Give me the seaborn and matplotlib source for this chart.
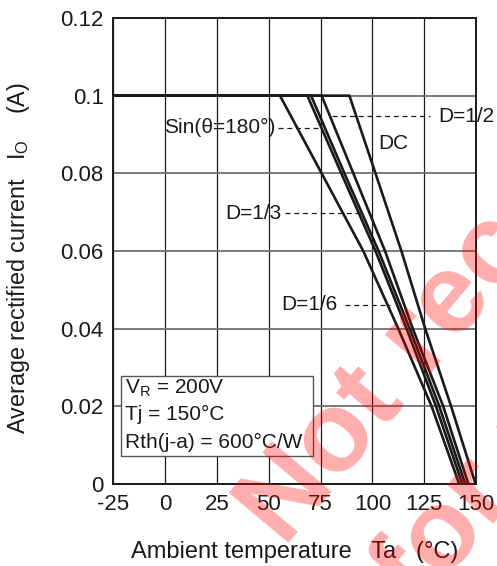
import matplotlib
matplotlib.use("Agg")
import matplotlib.pyplot as plt
from matplotlib.patches import Rectangle
import seaborn as sns
import pandas as pd

# derating curves: ambient temperature (degC) at each current step (A)
current = [0.1, 0.1, 0.08, 0.06, 0.04, 0.02, 0.0]
ta_d16 = [-25, 55.4, 75.5, 95.6, 112.5, 128.6, 141.9]
ta_sin = [-25, 68.6, 85.0, 101.5, 116.5, 130.7, 143.4]
ta_d13 = [-25, 70.4, 86.5, 103.0, 118.0, 132.3, 144.8]
ta_d12 = [-25, 75.5, 90.8, 106.1, 119.5, 134.2, 146.3]
ta_dc = [-25, 88.9, 101.5, 114.0, 125.5, 138.0, 149.8]

curve_names = ["D=1/6", "Sin(θ=180°)", "D=1/3", "D=1/2", "DC"]
curve_temps = [ta_d16, ta_sin, ta_d13, ta_d12, ta_dc]

x_ticks = [-25, 0, 25, 50, 75, 100, 125, 150]
y_ticks = [0, 0.02, 0.04, 0.06, 0.08, 0.1, 0.12]
y_tick_labels = ["0", "0.02", "0.04", "0.06", "0.08", "0.1", "0.12"]

conditions = ["V$_\\mathregular{R}$ = 200V", "Tj = 150°C", "Rth(j-a) = 600°C/W"]

rows = []
for name, temps in zip(curve_names, curve_temps):
    for t, i in zip(temps, current):
        rows.append({"curve": name, "ta": t, "io": i})
df = pd.DataFrame(rows)

sns.set_style("white")
plt.rcParams["font.family"] = ["Liberation Sans", "DejaVu Sans"]
plt.rcParams["mathtext.fontset"] = "custom"
plt.rcParams["mathtext.rm"] = "Liberation Sans"

fig = plt.figure(figsize=(4.97, 5.66), dpi=100)
ax = fig.add_axes([0.2282, 0.1449, 0.7295, 0.8233])

sns.lineplot(data=df, x="ta", y="io", hue="curve", units="curve", estimator=None,
             sort=False, palette=["#1a1a1a"] * 5, linewidth=1.9, legend=False,
             ax=ax, zorder=3)

ax.set_xlim(-25, 150)
ax.set_ylim(0, 0.12)
ax.set_xticks(x_ticks)
ax.set_xticklabels([str(t) for t in x_ticks])
ax.set_yticks(y_ticks)
ax.set_yticklabels(y_tick_labels)
ax.tick_params(length=0, labelsize=16, colors="#1a1a1a", pad=7)
ax.xaxis.grid(True, color="#1a1a1a", linewidth=0.9)
ax.yaxis.grid(True, color="#707070", linewidth=1.3)
ax.set_axisbelow(True)
for sp in ax.spines.values():
    sp.set_color("#1a1a1a")
    sp.set_linewidth(1.4)

ax.set_xlabel("Ambient temperature   Ta   (°C)", fontsize=17, color="#1a1a1a")
ax.set_ylabel("Average rectified current   I$_\\mathregular{O}$    (A)",
              fontsize=16.8, color="#1a1a1a")
ax.xaxis.set_label_coords(0.5, -0.122)
ax.yaxis.set_label_coords(-0.225, 0.485)

# curve labels with dashed leaders
lbl = dict(fontsize=15, color="#1a1a1a", zorder=5)
dash = dict(color="#1a1a1a", linewidth=0.9, linestyle=(0, (4, 3)), zorder=4)
ax.text(53, 0.0917, "Sin(θ=180°)", ha="right", va="center", **lbl)
ax.plot([54.5, 75.0], [0.0917, 0.0917], **dash)
ax.text(131.8, 0.0947, "D=1/2", ha="left", va="center", clip_on=False, **lbl)
ax.plot([80.3, 127.8], [0.0947, 0.0947], **dash)
ax.text(102.8, 0.0878, "DC", ha="left", va="center", **lbl)
ax.text(56.2, 0.0697, "D=1/3", ha="right", va="center", **lbl)
ax.plot([57.8, 94.0], [0.0697, 0.0697], **dash)
ax.text(83.4, 0.0461, "D=1/6", ha="right", va="center", **lbl)
ax.plot([86.8, 108.5], [0.0461, 0.0461], **dash)

# condition box
ax.add_patch(Rectangle((-21.3, 0.0072), 92.8, 0.0206, facecolor="white",
                       edgecolor="#555555", linewidth=1.0, zorder=4))
for txt, yy in zip(conditions, [0.0247, 0.0178, 0.0108]):
    ax.text(-19.4, yy, txt, ha="left", va="center", fontsize=15,
            color="#1a1a1a", zorder=5)

# watermark (placed in figure pixels, origin bottom-left)
wm = dict(fontsize=82, fontweight="bold", color="red", alpha=0.32,
          rotation=50, rotation_mode="anchor", ha="left", va="baseline",
          transform=None, zorder=10)
fig.text(284, 566 - 548, "Not recommended", **wm)
fig.text(420, 566 - 612, "for new design", **wm)

fig.savefig("out.png", dpi=100)
